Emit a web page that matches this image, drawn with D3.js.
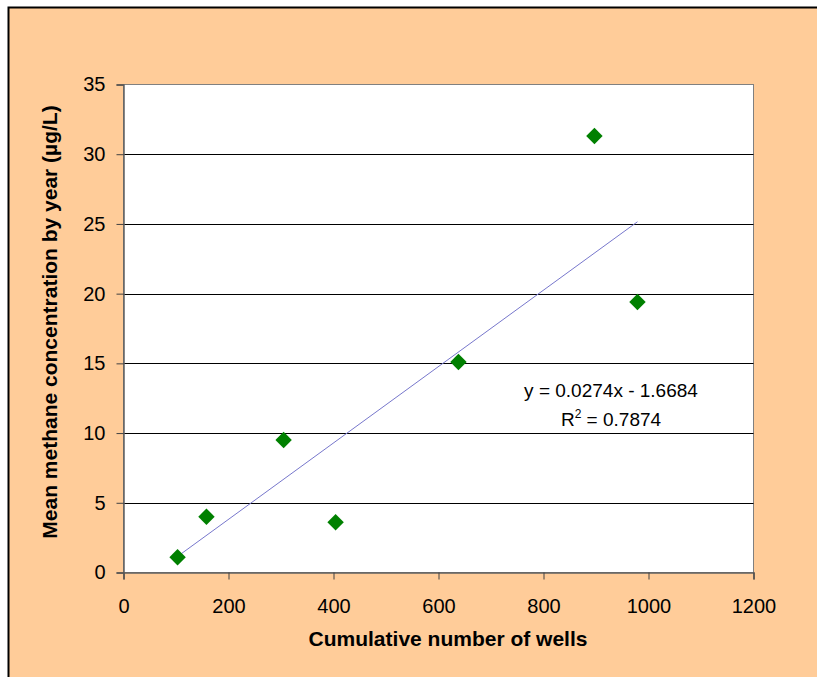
<!DOCTYPE html>
<html>
<head>
<meta charset="utf-8">
<script src="https://cdn.jsdelivr.net/npm/d3@7"></script>
<style>
  body { margin: 0; background: #fff; }
  svg text { font-family: "Liberation Sans", Arial, sans-serif; fill: #000; }
</style>
</head>
<body>
<div id="chart"></div>
<script>
  var wells   = [103, 158, 305, 404, 638, 897, 979];
  var methane = [1.1, 4.0, 9.5, 3.6, 15.1, 31.3, 19.4];
  var xTicks  = [0, 200, 400, 600, 800, 1000, 1200];
  var yTicks  = [0, 5, 10, 15, 20, 25, 30, 35];
  var slope = 0.0274, intercept = -1.6684;
  var eqLabel = "y = 0.0274x - 1.6684";
  var r2Value = "0.7874";

  (function(){
    var width = 817, height = 677;
    var plotLeft = 123.5, plotRight = 753.5, plotTop = 84.5, plotBottom = 572.5;

    var svg = d3.select("#chart").append("svg")
        .attr("width", width)
        .attr("height", height);

    // peach chart area with black left/top border
    svg.append("rect")
       .attr("x", 8).attr("y", 7)
       .attr("width", width).attr("height", height)
       .attr("fill", "#ffcc99");
    svg.append("path")
       .attr("d", "M8.5," + height + "V7.5H" + width)
       .attr("fill", "none").attr("stroke", "#000").attr("stroke-width", 2);

    var x = d3.scaleLinear().domain([0, 1200]).range([plotLeft, plotRight]);
    var y = d3.scaleLinear().domain([0, 35]).range([plotBottom, plotTop]);

    // plot area
    svg.append("rect")
       .attr("x", plotLeft).attr("y", plotTop)
       .attr("width", plotRight - plotLeft).attr("height", plotBottom - plotTop)
       .attr("fill", "#fff").attr("stroke", "#808080").attr("stroke-width", 1);

    // gridlines
    svg.selectAll("line.grid")
       .data(yTicks.filter(d => d > 0 && d < 35))
       .enter().append("line")
       .attr("class", "grid")
       .attr("x1", plotLeft).attr("x2", plotRight)
       .attr("y1", d => Math.round(y(d)) + 0.5)
       .attr("y2", d => Math.round(y(d)) + 0.5)
       .attr("stroke", "#000").attr("stroke-width", 1);

    // axes
    var xAxis = d3.axisBottom(x).tickValues(xTicks).tickFormat(d3.format("d")).tickSize(7).tickPadding(19);
    var yAxis = d3.axisLeft(y).tickValues(yTicks).tickFormat(d3.format("d")).tickSize(7).tickPadding(11);

    var gx = svg.append("g").attr("transform", "translate(0," + plotBottom + ")").call(xAxis);
    var gy = svg.append("g").attr("transform", "translate(" + plotLeft + ",0)").call(yAxis);

    [gx, gy].forEach(function(g){
      g.attr("font-size", 20).attr("font-family", "'Liberation Sans', Arial, sans-serif");
      g.select(".domain").attr("stroke", "#606060").attr("stroke-width", 1.5);
      g.selectAll(".tick line").attr("stroke", "#404040");
      g.selectAll(".tick text").attr("fill", "#000");
    });

    // trend line
    var xExt = d3.extent(wells);
    svg.append("line")
       .attr("x1", x(xExt[0])).attr("y1", y(slope * xExt[0] + intercept))
       .attr("x2", x(xExt[1])).attr("y2", y(slope * xExt[1] + intercept))
       .attr("stroke", "#7777cc").attr("stroke-width", 1);

    // diamonds
    var diamond = d3.symbol().type(d3.symbolSquare).size(135);
    svg.selectAll("path.pt")
       .data(wells)
       .enter().append("path")
       .attr("class", "pt")
       .attr("d", diamond)
       .attr("transform", (d, i) => "translate(" + x(d) + "," + y(methane[i]) + ") rotate(45)")
       .attr("fill", "#008000");

    // equation labels
    var eq = svg.append("g").style("font-size", "19px");
    eq.append("text")
      .attr("x", 611).attr("y", 397)
      .attr("text-anchor", "middle")
      .text(eqLabel);
    var r2 = eq.append("text")
      .attr("x", 611).attr("y", 426)
      .attr("text-anchor", "middle");
    r2.append("tspan").text("R");
    r2.append("tspan").attr("dy", -8).style("font-size", "12px").text("2");
    r2.append("tspan").attr("dy", 8).text(" = " + r2Value);

    // axis titles
    svg.append("text")
       .attr("x", 448).attr("y", 646)
       .attr("text-anchor", "middle")
       .style("font-size", "21px").style("font-weight", "bold")
       .text("Cumulative number of wells");

    svg.append("text")
       .attr("transform", "translate(57,322) rotate(-90)")
       .attr("text-anchor", "middle")
       .style("font-size", "21px").style("font-weight", "bold")
       .text("Mean methane concentration by year (µg/L)");
  })();
</script>
</body>
</html>
